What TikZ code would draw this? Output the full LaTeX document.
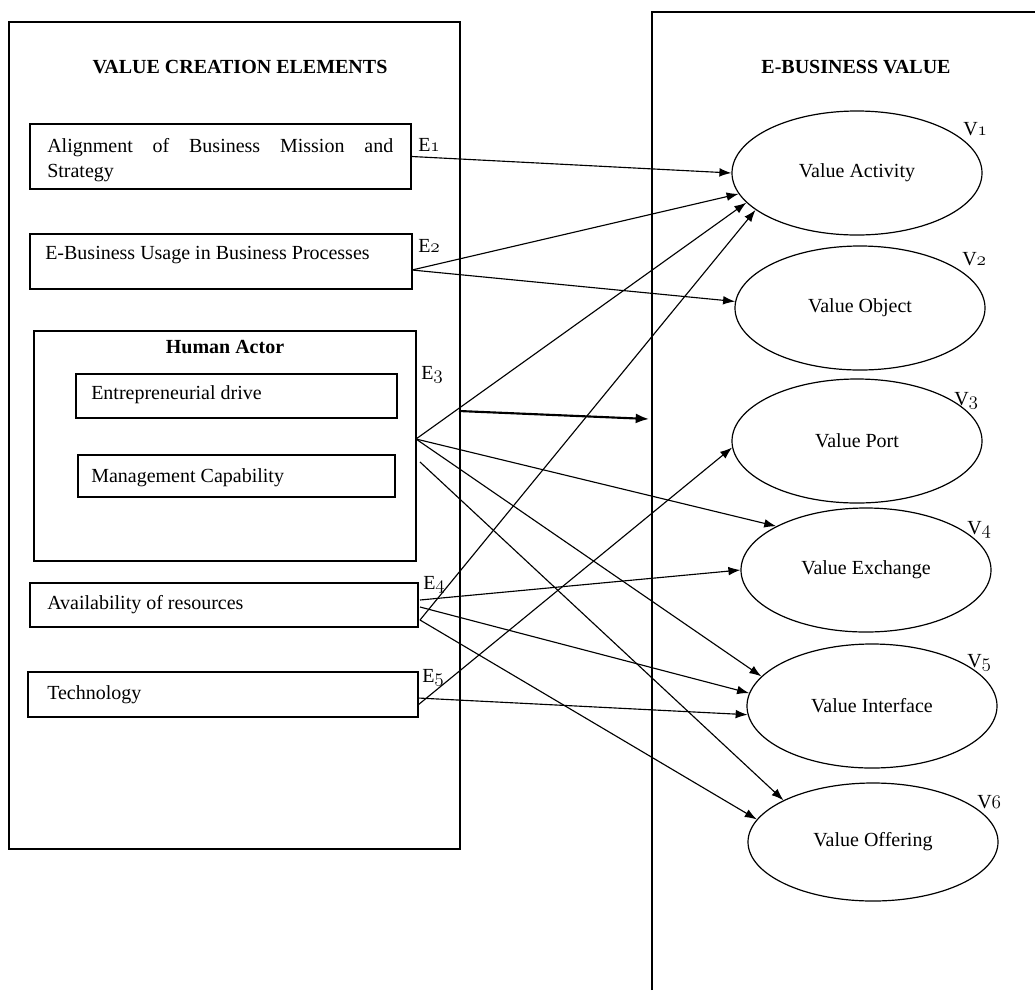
\documentclass[tikz,border=0pt]{standalone}
\usepackage{fontspec}
\setmainfont{Liberation Serif}
\usetikzlibrary{arrows.meta,shapes.geometric,fit}
\newcommand{\osn}[1]{{\usefont{OML}{cmm}{m}{it}#1}}
\begin{document}
\begin{tikzpicture}[x=0.75pt,y=-0.75pt,
  every node/.style={font=\fontsize{15pt}{18.75pt}\selectfont},
  frame/.style={draw, line width=1pt, inner sep=0pt},
  txt/.style={inner sep=0pt},
  ttl/.style={inner sep=0pt, font=\fontsize{15pt}{18.75pt}\selectfont\bfseries},
  ell/.style={draw, ellipse, line width=0.9pt, inner sep=0pt,
    minimum width=187.5pt, minimum height=93pt},
  arr/.style={-{Latex[length=9pt,width=6.5pt]}, line width=0.85pt},
  thickarr/.style={-{Latex[length=10pt,width=7.5pt]}, line width=1.6pt}]
\useasboundingbox (0,0) rectangle (1035,990);

% outer frames
\node[frame, fit={(9,22) (460,849)}] (left) {};
\draw[line width=1pt] (652,990) -- (652,12) -- (1035,12);

% titles
\node[ttl, anchor=base] (ttlL) at (240,73) {VALUE CREATION ELEMENTS};
\node[ttl, anchor=base] (ttlR) at (856,73) {E-BUSINESS VALUE};

% element boxes
\node[frame, fit={(30,124) (411,189)}] (b1) {};
\node[frame, fit={(30,234) (412,289)}] (b2) {};
\node[frame, fit={(34,331) (416,561)}] (ha) {};
\node[frame, fit={(76,374) (397,418)}] (ed) {};
\node[frame, fit={(78,455) (395,497)}] (mc) {};
\node[frame, fit={(30,583) (418,627)}] (b4) {};
\node[frame, fit={(28,672) (418,717)}] (b5) {};

% element texts
\node[txt, anchor=north west, align=left] (b1t) at (47,138.3)
  {\makebox[259.5pt][s]{Alignment of Business Mission and}\\Strategy};
\node[txt, anchor=base west] (b2t) at (45,259) {E-Business Usage in Business Processes};
\node[ttl, anchor=base] (hat) at (225,353) {Human Actor};
\node[txt, anchor=base west] (edt) at (91,399) {Entrepreneurial drive};
\node[txt, anchor=base west] (mct) at (91,482) {Management Capability};
\node[txt, anchor=base west] (b4t) at (47,609) {Availability of resources};
\node[txt, anchor=base west] (b5t) at (47,699) {Technology};

% E labels
\node[txt, anchor=base west] (E1) at (418,151) {E\osn{1}};
\node[txt, anchor=base west] (E2) at (418,252) {E\osn{2}};
\node[txt, anchor=base west] (E3) at (421,379) {E\osn{3}};
\node[txt, anchor=base west] (E4) at (423,589) {E\osn{4}};
\node[txt, anchor=base west] (E5) at (422,682) {E\osn{5}};

% value ellipses
\node[ell] (v1) at (857,173) {Value Activity};
\node[ell] (v2) at (860,308) {Value Object};
\node[ell] (v3) at (857,441) {Value Port};
\node[ell] (v4) at (866,570) {Value Exchange};
\node[ell] (v5) at (872,706) {Value Interface};
\node[ell, minimum height=88.5pt] (v6) at (873,842) {Value Offering};

% V labels
\node[txt, anchor=base west] (V1) at (963,135) {V\osn{1}};
\node[txt, anchor=base west] (V2) at (962,265) {V\osn{2}};
\node[txt, anchor=base west] (V3) at (954,405) {V\osn{3}};
\node[txt, anchor=base west] (V4) at (967,534) {V\osn{4}};
\node[txt, anchor=base west] (V5) at (967,667) {V\osn{5}};
\node[txt, anchor=base west] (V6) at (977,808) {V\osn{6}};

% connector start points
\coordinate (e2s) at (412,270);
\coordinate (e3s) at (416,439);
\coordinate (e3t) at (420,462);
\coordinate (e4a) at (420,600);
\coordinate (e4b) at (420,607);
\coordinate (e4c) at (420,620);
\coordinate (e5a) at (418,705);
\coordinate (e5b) at (418,698);
\coordinate (th1) at (459,411);
\coordinate (th2) at (649,419);

% connectors
\draw[arr] (b1.east) -- (v1.180);
\draw[arr] (e2s) -- (v1.190);
\draw[arr] (e2s) -- (v2.177);
\draw[arr] (e3s) -- (v1.195);
\draw[arr] (e3s) -- (v4.154);
\draw[arr] (e3s) -- (v5.165);
\draw[arr] (e3t) -- (v6.155);
\draw[arr] (e4c) -- (v1.200);
\draw[arr] (e4a) -- (v4.180);
\draw[arr] (e4b) -- (v5.174);
\draw[arr] (e4c) -- (v6.169);
\draw[arr] (e5a) -- (v3.183);
\draw[arr] (e5b) -- (v5.184);
\draw[thickarr] (th1) -- (th2);
\end{tikzpicture}
\end{document}
